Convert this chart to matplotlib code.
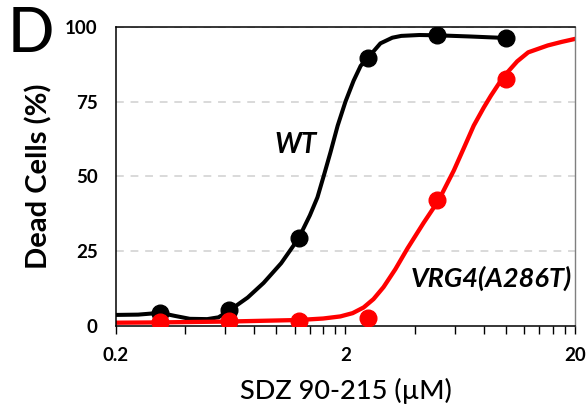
import matplotlib
matplotlib.use("Agg")
import matplotlib.pyplot as plt
from matplotlib.ticker import FixedLocator, NullFormatter

plt.rcParams['font.family'] = ['Lato', 'DejaVu Sans']

# measured points (SDZ 90-215 dose, % dead cells)
dose = [0.3125, 0.625, 1.25, 2.5, 5, 10]
wt_dead = [4.4, 5.2, 29.3, 89.6, 97.2, 96.3]
mut_dead = [1.3, 1.6, 1.8, 2.7, 42.0, 82.5]

# fitted curves
wt_fit_x = [0.2, 0.25, 0.3125, 0.36, 0.42, 0.5, 0.56, 0.625, 0.75, 0.88, 1.05, 1.25,
            1.4, 1.51, 1.62, 1.72, 1.85, 2.0, 2.17, 2.33, 2.5, 2.84, 3.2, 3.5, 4.2, 5, 7, 10]
wt_fit_y = [3.7, 3.8, 4.4, 3.4, 2.4, 2.3, 2.9, 5.2, 9.5, 14.4, 21, 29.3,
            37, 43, 51, 58, 67, 75, 82, 87, 89.6, 94.5, 96.4, 97, 97.3, 97.2, 96.8, 96.3]
mut_fit_x = [0.2, 0.3125, 0.625, 1.25, 1.6, 1.9, 2.15, 2.4, 2.65, 2.93, 3.3, 3.73,
             4.38, 5.09, 5.93, 6.6, 7.24, 8.0, 8.6, 9.4, 10.2, 11.2, 12.5, 15.2, 17.5, 20]
mut_fit_y = [1.1, 1.2, 1.5, 2.0, 2.5, 3.2, 4.3, 6.2, 9.0, 13, 19, 26,
             34.5, 42, 52, 60, 67, 73, 77, 81.5, 85, 88.5, 91.5, 93.8, 95, 96]

xmajor = [0.2, 2, 20]
xminor = [0.4, 0.6, 0.8, 1.0, 1.2, 1.4, 1.6, 1.8, 4, 6, 8, 10, 12, 14, 16, 18]
yticks = [0, 25, 50, 75, 100]

fig = plt.figure(figsize=(5.88, 4.08), dpi=100)
ax = fig.add_axes([0.197, 0.201, 0.781, 0.733])

for g in [25, 50, 75, 100]:
    ax.axhline(g, color='#d9d9d9', lw=1.4, dashes=(4, 3.5), zorder=0)

ax.plot(wt_fit_x, wt_fit_y, color='black', lw=2.9, zorder=2, solid_joinstyle='round')
ax.plot(mut_fit_x, mut_fit_y, color='#ff0000', lw=3.1, zorder=2, solid_joinstyle='round')
ax.plot(dose, wt_dead, 'o', color='black', ms=12, zorder=3)
ax.plot(dose, mut_dead, 'o', color='#ff0000', ms=12, zorder=4)

ax.set_xscale('log')
ax.set_xlim(0.2, 20)
ax.set_ylim(0, 100)
ax.xaxis.set_major_locator(FixedLocator(xmajor))
ax.xaxis.set_minor_locator(FixedLocator(xminor))
ax.xaxis.set_minor_formatter(NullFormatter())
ax.set_xticklabels(['0.2', '2', '20'])
ax.set_yticks(yticks)
ax.set_yticklabels([str(v) for v in yticks])

ax.tick_params(axis='x', which='both', direction='out', length=6, width=1, pad=9)
ax.tick_params(axis='y', length=0, pad=13)
for lab in ax.get_xticklabels() + ax.get_yticklabels():
    lab.set_fontweight('bold')
    lab.set_fontsize(13.5)

for s in ['left', 'bottom', 'top']:
    ax.spines[s].set_color('black')
    ax.spines[s].set_linewidth(1.1)
ax.spines['right'].set_color('#7f7f7f')
ax.spines['right'].set_linewidth(1.0)

ax.set_xlabel('SDZ 90-215 (µM)', fontsize=19.5, fontweight='medium', labelpad=10)
ax.set_ylabel('Dead Cells (%)', fontsize=21, fontweight='bold', labelpad=9)

ax.text(1.21, 60.5, 'WT', fontsize=20, fontweight='bold', style='italic',
        ha='center', va='center')
ax.text(8.6, 16, 'VRG4(A286T)', fontsize=19.5, fontweight='bold', style='italic',
        ha='center', va='center')
fig.text(0.052, 0.915, 'D', fontsize=44, fontweight='medium', ha='center', va='center')

fig.savefig('out.png', dpi=100)
